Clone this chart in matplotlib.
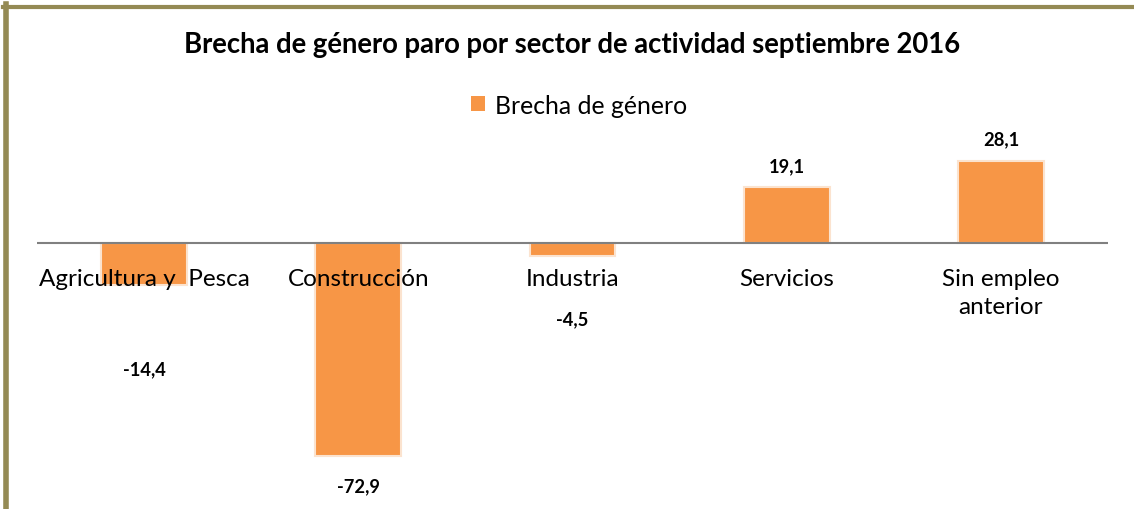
import matplotlib.pyplot as plt
from matplotlib.lines import Line2D
from matplotlib.patches import Patch

# data
categories = ['Agricultura y  Pesca', 'Construcción', 'Industria', 'Servicios', 'Sin empleo\nanterior']
brecha = [-14.4, -72.9, -4.5, 19.1, 28.1]
value_labels = ['-14,4', '-72,9', '-4,5', '19,1', '28,1']
label_y = [-43.2, -83.2, -26.0, 26.4, 35.6]   # where Excel left the data labels

plt.rcParams['font.family'] = ['Lato', 'DejaVu Sans']
bar_color = '#F79646'
border_color = '#948A54'

px_per_unit = 2.92
zero_px = 244

fig = plt.figure(figsize=(11.34, 5.10), dpi=100)
ax = fig.add_axes([37 / 1134, 0, (1108 - 37) / 1134, 1])

x = range(len(categories))
ax.bar(x, brecha, width=0.4, color=bar_color, edgecolor='#FBE3CF', linewidth=1.5, zorder=2)
ax.axhline(0, color='#808080', linewidth=1.5, zorder=3)

ax.set_xlim(-0.5, 4.5)
ax.set_ylim(-(510 - zero_px) / px_per_unit, zero_px / px_per_unit)
ax.axis('off')

for i, cat in enumerate(categories):
    ax.text(i, -8.6, cat, ha='center', va='top', fontsize=17.5, color='#000000',
            linespacing=1.4, zorder=4)

for i, (lab, yy) in enumerate(zip(value_labels, label_y)):
    ax.text(i, yy, lab, ha='center', va='center', fontsize=13.2, fontweight='bold')

fig.text(572 / 1134, 1 - 45 / 510, 'Brecha de género paro por sector de actividad septiembre 2016',
         ha='center', va='center', fontsize=19.8, fontweight='bold')

leg = fig.legend(handles=[Patch(facecolor=bar_color, label='Brecha de género')],
                 loc='center', bbox_to_anchor=(579 / 1134, 1 - 106 / 510), frameon=False,
                 fontsize=17.8, handlelength=0.55, handleheight=0.55, handletextpad=0.4)

# olive frame (left and top only visible)
fig.add_artist(Line2D([5.5 / 1134, 5.5 / 1134], [0, 1 - 5 / 510], color=border_color, linewidth=4))
fig.add_artist(Line2D([3 / 1134, 1], [1 - 7.5 / 510, 1 - 7.5 / 510], color=border_color, linewidth=3))

fig.savefig('out.png', dpi=100)
